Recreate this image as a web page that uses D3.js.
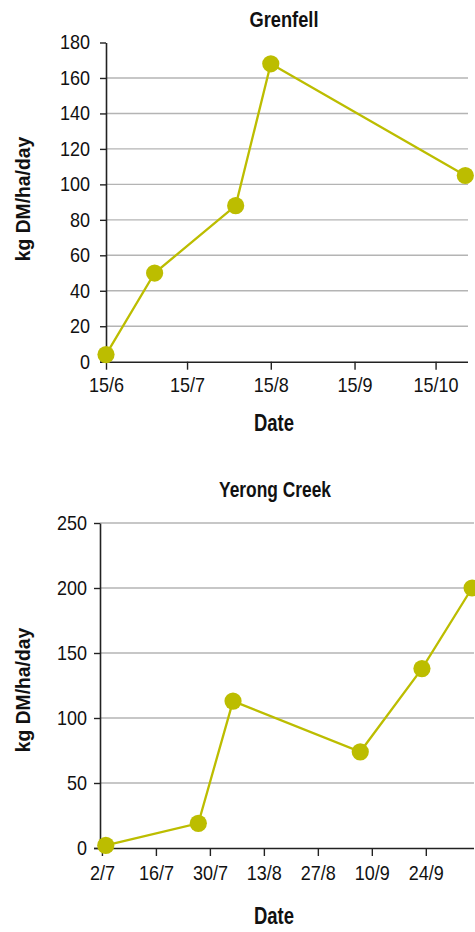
<!DOCTYPE html>
<html>
<head>
<meta charset="utf-8">
<script src="https://cdn.jsdelivr.net/npm/d3@7"></script>
<style>
  html, body { margin: 0; padding: 0; background: #fff; }
  svg { display: block; }
  text { font-family: "Liberation Sans", Arial, sans-serif; fill: #111; }
</style>
</head>
<body>
<svg id="chart" width="475" height="932"></svg>
<script>
// Pasture growth rate, kg DM/ha/day, at two sites
const grenfellDates  = ["2019-06-15", "2019-07-03", "2019-08-02", "2019-08-15", "2019-10-26"];
const grenfellValues = [4, 50, 88, 168, 105];
const grenfellTicks  = ["2019-06-15", "2019-07-15", "2019-08-15", "2019-09-15", "2019-10-15"];
const grenfellYTicks = [0, 20, 40, 60, 80, 100, 120, 140, 160, 180];
const grenfellGrid   = [20, 40, 60, 80, 100, 120, 140, 160];

const yerongDates  = ["2019-07-03", "2019-07-27", "2019-08-05", "2019-09-07", "2019-09-23", "2019-10-06"];
const yerongValues = [2, 19, 113, 74, 138, 200];
const yerongTicks  = ["2019-07-02", "2019-07-16", "2019-07-30", "2019-08-13", "2019-08-27", "2019-09-10", "2019-09-24"];
const yerongYTicks = [0, 50, 100, 150, 200, 250];
const yerongGrid   = [50, 100, 150, 200, 250];

const lineColor = "#bcbd00";
const tickSX = 0.9;     // horizontal squeeze for tick labels
const parse = d3.timeParse("%Y-%m-%d");
const fmt = d3.timeFormat("%-d/%-m");

const svg = d3.select("#chart");

// bold label squeezed horizontally to a condensed look
function boldLabel(g, x, y, size, sx, str, rotate) {
  g.append("text")
    .attr("transform", `translate(${x},${y})${rotate ? " rotate(-90)" : ""} scale(${sx},1)`)
    .attr("text-anchor", "middle")
    .attr("font-size", size).attr("font-weight", "bold")
    .text(str);
}

function panel(opt) {
  const g = svg.append("g");
  const x = d3.scaleTime().domain(opt.xDomain.map(d => d3.isoParse(d))).range([opt.left, opt.right]);
  const y = d3.scaleLinear().domain([0, opt.yMax]).range([opt.bottom, opt.top]);

  // horizontal gridlines
  g.append("g").selectAll("line")
    .data(opt.grid)
    .join("line")
    .attr("x1", opt.left).attr("x2", opt.right)
    .attr("y1", d => y(d)).attr("y2", d => y(d))
    .attr("stroke", "#b4b4b4").attr("stroke-width", 1.4);

  // y axis
  const yAxis = g.append("g")
    .attr("transform", `translate(${opt.left},0)`)
    .call(d3.axisLeft(y).tickValues(opt.yTicks).tickSize(6).tickPadding(opt.yPad).tickSizeOuter(0));
  yAxis.select(".domain").attr("stroke", "#222").attr("stroke-width", 1.6);
  yAxis.selectAll(".tick line").attr("stroke", "#222").attr("stroke-width", 1.4);
  yAxis.selectAll(".tick text")
    .attr("x", -(6 + opt.yPad) / tickSX)
    .attr("transform", `scale(${tickSX},1)`)
    .attr("font-size", 20).attr("fill", "#111")
    .style("font-family", "'Liberation Sans', Arial, sans-serif");

  // x axis
  const xAxis = g.append("g")
    .attr("transform", `translate(0,${opt.bottom})`)
    .call(d3.axisBottom(x).tickValues(opt.xTicks.map(parse)).tickFormat(fmt).tickSize(8).tickPadding(opt.xPad).tickSizeOuter(0));
  xAxis.select(".domain").attr("stroke", "#222").attr("stroke-width", 1.6)
    .attr("d", `M${opt.left - 6},0.5H${opt.right}`);
  xAxis.selectAll(".tick line").attr("stroke", "#222").attr("stroke-width", 1.4);
  xAxis.selectAll(".tick text")
    .attr("transform", `scale(${tickSX},1)`)
    .attr("font-size", 20).attr("fill", "#111")
    .style("font-family", "'Liberation Sans', Arial, sans-serif");

  const pts = opt.dates.map((d, i) => ({ date: parse(d), value: opt.values[i] }));

  g.append("path")
    .datum(pts)
    .attr("fill", "none")
    .attr("stroke", lineColor)
    .attr("stroke-width", 2.3)
    .attr("d", d3.line().x(d => x(d.date)).y(d => y(d.value)));

  g.append("g").selectAll("circle")
    .data(pts)
    .join("circle")
    .attr("cx", d => x(d.date))
    .attr("cy", d => y(d.value))
    .attr("r", 8.6)
    .attr("fill", lineColor);

  boldLabel(g, opt.titleX, opt.titleY, 22, opt.titleScale, opt.title, false);
  boldLabel(g, 274, opt.dateY, 24, 0.77, "Date", false);
  boldLabel(g, 30, opt.yLabelY, 21, 0.92, "kg DM/ha/day", true);
}

panel({
  title: "Grenfell", titleX: 284, titleY: 27, titleScale: 0.83,
  dates: grenfellDates, values: grenfellValues,
  xDomain: ["2019-06-15", "2019-10-27"], xTicks: grenfellTicks,
  yMax: 180, yTicks: grenfellYTicks, grid: grenfellGrid,
  left: 106, right: 468, top: 42.5, bottom: 361.7, yPad: 10, xPad: 8,
  dateY: 431, yLabelY: 199
});

panel({
  title: "Yerong Creek", titleX: 275, titleY: 497, titleScale: 0.79,
  dates: yerongDates, values: yerongValues,
  xDomain: ["2019-07-01T12:00", "2019-10-06T12:00"], xTicks: yerongTicks,
  yMax: 250, yTicks: yerongYTicks, grid: yerongGrid,
  left: 100, right: 474, top: 523, bottom: 848, yPad: 7, xPad: 10,
  dateY: 924, yLabelY: 690
});
</script>
</body>
</html>
